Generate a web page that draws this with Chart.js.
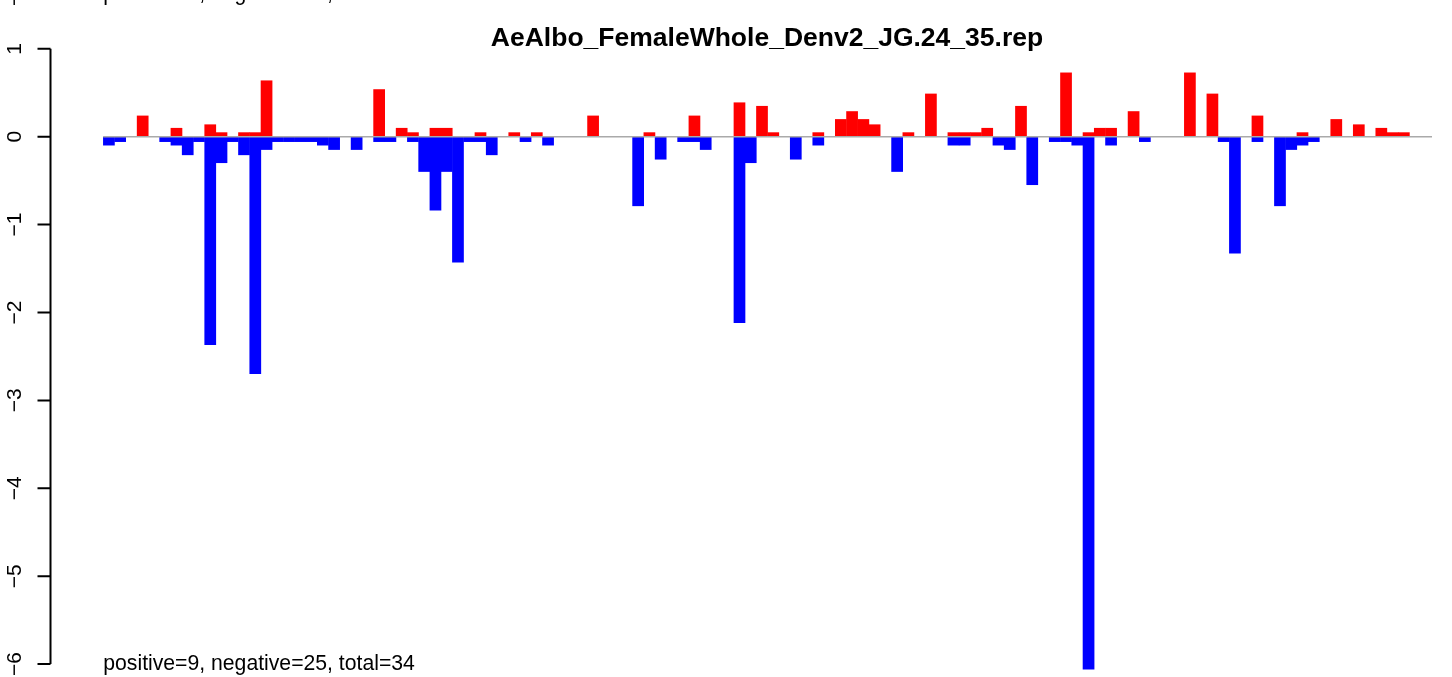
<!DOCTYPE html>
<html>
<head>
<meta charset="utf-8">
<title>AeAlbo_FemaleWhole_Denv2_JG.24_35.rep</title>
<script src="https://cdn.jsdelivr.net/npm/chart.js@4/dist/chart.umd.min.js"></script>
<style>
  html, body { margin: 0; padding: 0; background: #fff; }
  canvas { display: block; }
</style>
</head>
<body>
<canvas id="chart" width="1452" height="677"></canvas>
<script>
"use strict";

const title = "AeAlbo_FemaleWhole_Denv2_JG.24_35.rep",
  note = "positive=9, negative=25, total=34",
  yTicks = [1, 0, -1, -2, -3, -4, -5, -6];

// one value per slot, null = no bar (118 slots, last two empty)
const posVals = [
  null, null, null, 0.24, null, null, 0.1, null, null, 0.14,
  0.05, null, 0.05, 0.05, 0.64, null, null, null, null, null,
  null, null, null, null, 0.54, null, 0.1, 0.05, null, 0.1,
  0.1, null, null, 0.05, null, null, 0.05, null, 0.05, null,
  null, null, null, 0.24, null, null, null, null, 0.05, null,
  null, null, 0.24, null, null, null, 0.39, null, 0.35, 0.05,
  null, null, null, 0.05, null, 0.2, 0.29, 0.2, 0.14, null,
  null, 0.05, null, 0.49, null, 0.05, 0.05, 0.05, 0.1, null,
  null, 0.35, null, null, null, 0.73, null, 0.05, 0.1, 0.1,
  null, 0.29, null, null, null, null, 0.73, null, 0.49, null,
  null, null, 0.24, null, null, null, 0.05, null, null, 0.2,
  null, 0.14, null, 0.1, 0.05, 0.05, null, null
];

const negVals = [
  -0.1, -0.06, null, null, null, -0.06, -0.1, -0.21, -0.06, -2.37,
  -0.3, -0.06, -0.21, -2.7, -0.15, -0.06, -0.06, -0.06, -0.06, -0.1,
  -0.15, null, -0.15, null, -0.06, -0.06, null, -0.06, -0.4, -0.84,
  -0.4, -1.43, -0.06, -0.06, -0.21, null, null, -0.06, null, -0.1,
  null, null, null, null, null, null, null, -0.79, null, -0.26,
  null, -0.06, -0.06, -0.15, null, null, -2.12, -0.3, null, null,
  null, -0.26, null, -0.1, null, null, null, null, null, null,
  -0.4, null, null, null, null, -0.1, -0.1, null, null, -0.1,
  -0.15, null, -0.55, null, -0.06, -0.06, -0.1, -6.06, null, -0.1,
  null, null, -0.06, null, null, null, null, null, null, -0.06,
  -1.33, null, -0.06, null, -0.79, -0.15, -0.1, -0.06, null, null,
  null, null, null, null, null, null, null, null
];

const font = '"Liberation Sans", Arial, Helvetica, sans-serif';

function toPoints(vals) {
  return vals.map((v, i) => (v === null ? null : { x: i, y: v })).filter(Boolean);
}

function tickText(t) {
  return t < 0 ? "\u2212" + Math.abs(t) : String(t);
}

// R-like decorations: zero line, left axis, title and notes
const rStyle = {
  id: "rStyle",
  afterDatasetsDraw(chart) {
    const { ctx, scales: { x, y } } = chart;
    ctx.save();
    ctx.strokeStyle = "#aaaaaa";
    ctx.lineWidth = 1.6;
    ctx.beginPath();
    ctx.moveTo(x.getPixelForValue(-0.5), y.getPixelForValue(0));
    ctx.lineTo(x.getPixelForValue(posVals.length - 0.5), y.getPixelForValue(0));
    ctx.stroke();
    ctx.restore();
  },
  afterDraw(chart) {
    const { ctx, chartArea, scales: { x, y } } = chart;
    const axisX = chartArea.left + 0.5;
    ctx.save();
    ctx.strokeStyle = "#000";
    ctx.lineWidth = 2;
    ctx.beginPath();
    ctx.moveTo(axisX, y.getPixelForValue(yTicks[0]));
    ctx.lineTo(axisX, y.getPixelForValue(yTicks[yTicks.length - 1]));
    yTicks.forEach((t) => {
      const py = y.getPixelForValue(t);
      ctx.moveTo(axisX - 13, py);
      ctx.lineTo(axisX, py);
    });
    ctx.stroke();

    ctx.fillStyle = "#000";
    ctx.font = "21px " + font;
    ctx.textAlign = "center";
    ctx.textBaseline = "alphabetic";
    yTicks.forEach((t) => {
      ctx.save();
      ctx.translate(20.5, y.getPixelForValue(t));
      ctx.rotate(-Math.PI / 2);
      ctx.fillText(tickText(t), 0, 0);
      ctx.restore();
    });
    // bottom of the panel above, cut by the frame
    ctx.save();
    ctx.translate(20.5, -6);
    ctx.rotate(-Math.PI / 2);
    ctx.fillText(tickText(-6), 0, 0);
    ctx.restore();

    ctx.font = "21.2px " + font;
    ctx.textAlign = "left";
    const left = x.getPixelForValue(-0.5);
    ctx.fillText(note, left, 670);
    ctx.fillText(note, left, 0);

    ctx.font = "bold 26.5px " + font;
    ctx.textAlign = "center";
    ctx.fillText(title, 767, 46);
    ctx.restore();
  }
};

const ctx = document.getElementById("chart").getContext("2d");
new Chart(ctx, {
  type: "bar",
  data: {
    datasets: [
      { label: "positive", data: toPoints(posVals), backgroundColor: "#ff0000" },
      { label: "negative", data: toPoints(negVals), backgroundColor: "#0000ff" }
    ]
  },
  options: {
    responsive: false,
    animation: false,
    events: [],
    layout: { padding: { left: 50, right: 20, top: 40, bottom: 4.1 } },
    datasets: {
      bar: { grouped: false, barPercentage: 1.04, categoryPercentage: 1, borderWidth: 0 }
    },
    scales: {
      x: { type: "linear", display: false, offset: false, min: -5.231, max: 117.5 },
      y: { display: false, min: -6.1, max: 1.1 }
    },
    plugins: { legend: { display: false }, tooltip: { enabled: false }, title: { display: false } }
  },
  plugins: [rStyle]
});
</script>
</body>
</html>
